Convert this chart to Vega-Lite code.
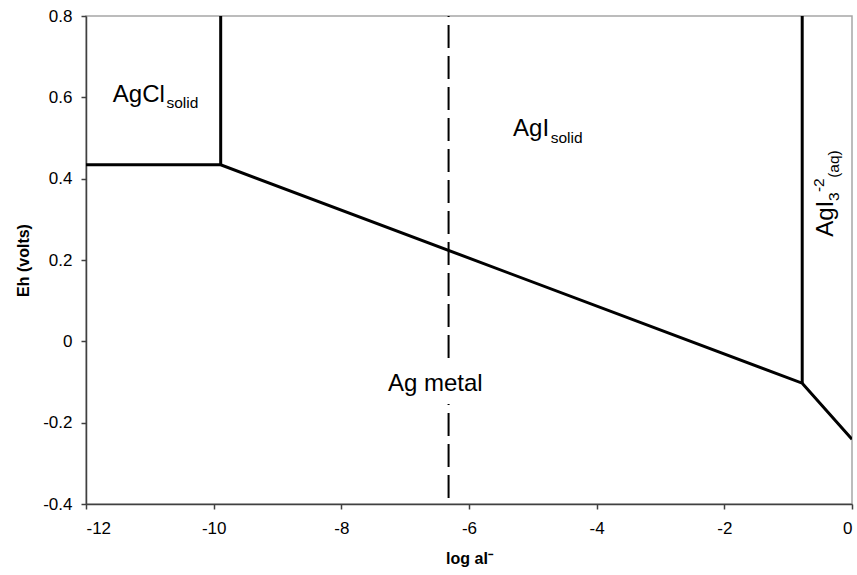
{
  "$schema": "https://vega.github.io/schema/vega-lite/v6.json",
  "autosize": "none",
  "width": 766,
  "height": 488,
  "padding": {"left": 86, "top": 16, "right": 5, "bottom": 71},
  "background": "white",
  "config": {
    "view": {"stroke": "#a6a6a6", "strokeWidth": 1.5},
    "font": "Liberation Sans",
    "axis": {
      "grid": false,
      "domainColor": "#404040",
      "domainWidth": 1.5,
      "tickColor": "#404040",
      "tickWidth": 1.5,
      "tickSize": 5,
      "labelFont": "Liberation Sans",
      "labelFontSize": 17,
      "labelColor": "#000000",
      "titleFont": "Liberation Sans",
      "titleFontSize": 16,
      "titleFontWeight": "bold",
      "titleColor": "#000000"
    }
  },
  "datasets": {
    "lines": [
      {"seg": "main", "ord": 1, "x": -12, "y": 0.434},
      {"seg": "main", "ord": 2, "x": -9.89, "y": 0.434},
      {"seg": "main", "ord": 3, "x": -0.78, "y": -0.103},
      {"seg": "main", "ord": 4, "x": 0, "y": -0.241},
      {"seg": "left", "ord": 1, "x": -9.89, "y": 0.434},
      {"seg": "left", "ord": 2, "x": -9.89, "y": 0.8},
      {"seg": "right", "ord": 1, "x": -0.78, "y": -0.103},
      {"seg": "right", "ord": 2, "x": -0.78, "y": 0.8}
    ],
    "dashes": [
      {"x": -6.32, "y": 0.8, "y2": -0.046},
      {"x": -6.32, "y": -0.154, "y2": -0.4}
    ],
    "big": [
      {"x": -11.58, "y": 0.588, "t": "AgCl"},
      {"x": -5.31, "y": 0.505, "t": "AgI"},
      {"x": -7.27, "y": -0.122, "t": "Ag metal"}
    ],
    "small": [
      {"x": -10.74, "y": 0.574, "t": "solid"},
      {"x": -4.72, "y": 0.488, "t": "solid"}
    ],
    "rotbig": [
      {"x": -0.29, "y": 0.257, "t": "AgI"}
    ],
    "rotsmall": [
      {"x": -0.21, "y": 0.345, "t": "3"},
      {"x": -0.44, "y": 0.367, "t": "-2"},
      {"x": -0.21, "y": 0.402, "t": "(aq)"}
    ]
  },
  "layer": [
    {
      "data": {"name": "lines"},
      "mark": {"type": "line", "color": "#000000", "strokeWidth": 3, "strokeJoin": "miter", "clip": true},
      "encoding": {
        "x": {"field": "x", "type": "quantitative", "scale": {"domain": [-12, 0], "nice": false}, "axis": {"values": [-12, -10, -8, -6, -4, -2, 0], "labelExpr": "replace(toString(datum.value), '\u2212', '-')", "labelPadding": 11, "title": "log aI\u207b", "titlePadding": 14}},
        "y": {"field": "y", "type": "quantitative", "scale": {"domain": [-0.4, 0.8], "nice": false, "zero": false}, "axis": {"values": [-0.4, -0.2, 0, 0.2, 0.4, 0.6, 0.8], "labelExpr": "datum.value == 0 ? '0' : replace(format(datum.value, '.1f'), '\u2212', '-')", "labelPadding": 9, "title": "Eh (volts)", "titlePadding": 11}},
        "detail": {"field": "seg"},
        "order": {"field": "ord", "type": "quantitative"}
      }
    },
    {
      "data": {"name": "dashes"},
      "mark": {"type": "rule", "color": "#000000", "strokeWidth": 2, "strokeDash": [23, 8], "strokeDashOffset": 22},
      "encoding": {
        "x": {"field": "x", "type": "quantitative"},
        "y": {"field": "y", "type": "quantitative"},
        "y2": {"field": "y2"}
      }
    },
    {
      "data": {"name": "big"},
      "mark": {"type": "text", "align": "left", "baseline": "alphabetic", "fontSize": 24, "font": "Liberation Sans", "color": "#000000"},
      "encoding": {
        "x": {"field": "x", "type": "quantitative"},
        "y": {"field": "y", "type": "quantitative"},
        "text": {"field": "t"}
      }
    },
    {
      "data": {"name": "small"},
      "mark": {"type": "text", "align": "left", "baseline": "alphabetic", "fontSize": 15.5, "font": "Liberation Sans", "color": "#000000"},
      "encoding": {
        "x": {"field": "x", "type": "quantitative"},
        "y": {"field": "y", "type": "quantitative"},
        "text": {"field": "t"}
      }
    },
    {
      "data": {"name": "rotbig"},
      "mark": {"type": "text", "align": "left", "baseline": "alphabetic", "angle": 270, "fontSize": 24, "font": "Liberation Sans", "color": "#000000"},
      "encoding": {
        "x": {"field": "x", "type": "quantitative"},
        "y": {"field": "y", "type": "quantitative"},
        "text": {"field": "t"}
      }
    },
    {
      "data": {"name": "rotsmall"},
      "mark": {"type": "text", "align": "left", "baseline": "alphabetic", "angle": 270, "fontSize": 15.5, "font": "Liberation Sans", "color": "#000000"},
      "encoding": {
        "x": {"field": "x", "type": "quantitative"},
        "y": {"field": "y", "type": "quantitative"},
        "text": {"field": "t"}
      }
    }
  ]
}
